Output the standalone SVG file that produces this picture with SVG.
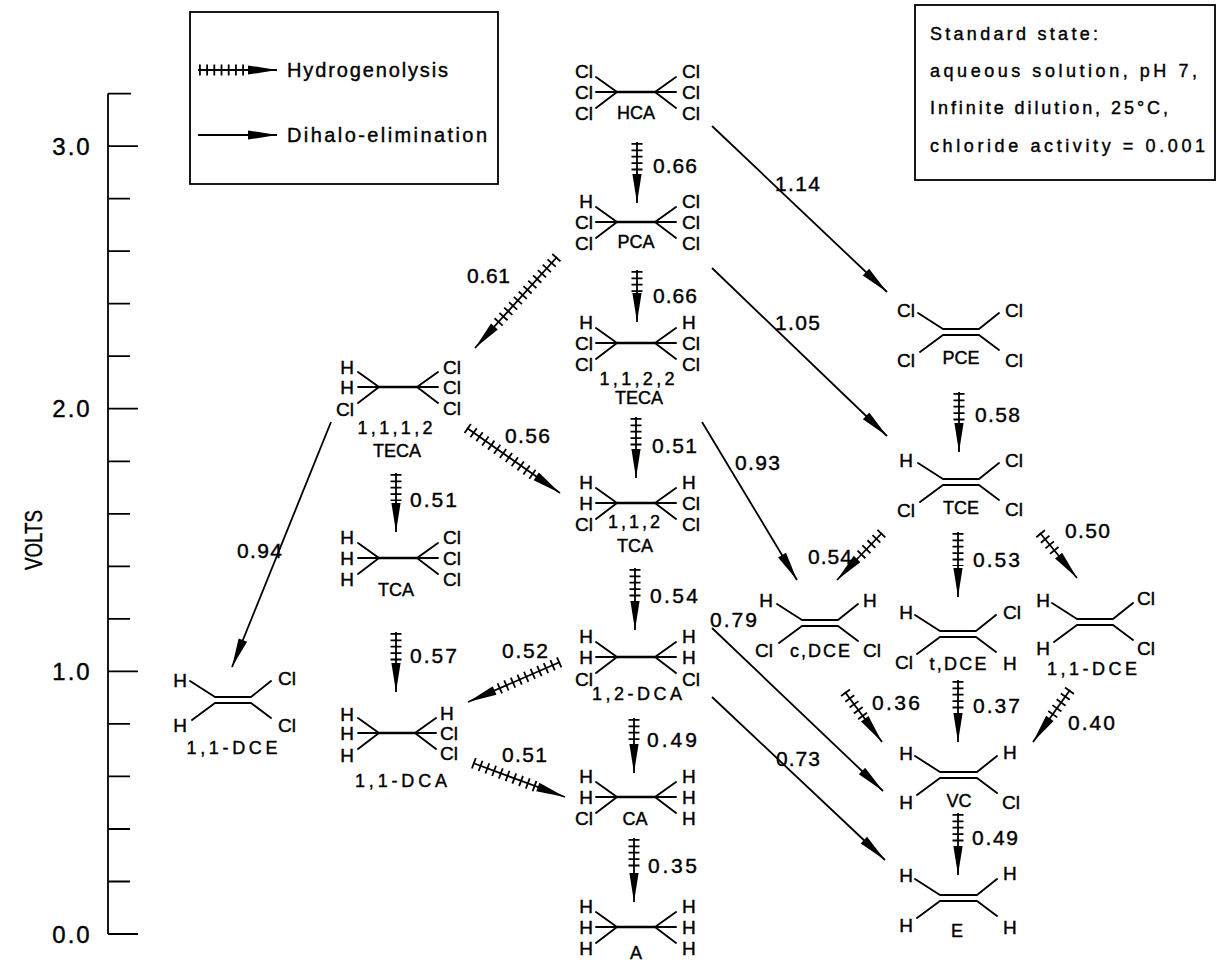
<svg xmlns="http://www.w3.org/2000/svg" width="1220" height="961" viewBox="0 0 1220 961">
<defs>
<style>
text { font-family: "Liberation Sans", Arial, sans-serif; fill: #000; stroke: #000; stroke-width: 0.4; }
.at { font-size: 19px; }
.e { text-anchor: end; }
.nm { font-size: 18px; text-anchor: middle; }
.n { font-size: 21px; }
.ax { font-size: 24px; text-anchor: middle; letter-spacing: 2px; }
.lg { font-size: 20px; }
.st { font-size: 18px; }
.bd { stroke: #000; stroke-width: 1.9; fill: none; stroke-linecap: round; stroke-linejoin: round; }
.cc { stroke: #000; stroke-width: 2.5; fill: none; }
.ar { stroke: #000; stroke-width: 1.8; fill: none; marker-end: url(#ah); }
.ht { stroke: #000; stroke-width: 11; stroke-dasharray: 1.8 4.6; fill: none; }
.hd { stroke: #000; stroke-width: 11; stroke-dasharray: 1.8 5.4; fill: none; }
.bx { fill: none; stroke: #000; stroke-width: 1.8; }
</style>
<marker id="ah" markerUnits="userSpaceOnUse" viewBox="-30 -6 31 12" refX="0" refY="0" markerWidth="31" markerHeight="12" orient="auto">
<path d="M0,0L-29,-4.6L-29,4.6Z" fill="#000"/>
</marker>
</defs>
<rect width="1220" height="961" fill="#fff"/>

<g id="axis">
<path class="bx" d="M108,93.5V934M108,934H138M108,671.4H138M108,408.7H138M108,146.1H138M108,881.5H130M108,829H130M108,776.4H130M108,723.9H130M108,618.8H130M108,566.3H130M108,513.8H130M108,461.3H130M108,356.2H130M108,303.7H130M108,251.2H130M108,198.6H130M108,93.6H131"/>
<text class="ax" x="72" y="943">0.0</text>
<text class="ax" x="72" y="680">1.0</text>
<text class="ax" x="72" y="417">2.0</text>
<text class="ax" x="72" y="155">3.0</text>
<text transform="translate(42,540) rotate(-90)" text-anchor="middle" font-size="24" textLength="60" lengthAdjust="spacingAndGlyphs">VOLTS</text>
</g>

<g id="legend">
<rect class="bx" x="190" y="12" width="308" height="172"/>
<line class="hd" x1="199" y1="70" x2="249" y2="70"/>
<line class="ar" x1="198" y1="70" x2="277" y2="70"/>
<text class="lg" x="287" y="77" textLength="161">Hydrogenolysis</text>
<line class="ar" x1="198" y1="135" x2="277" y2="135"/>
<text class="lg" x="287" y="142" textLength="200">Dihalo-elimination</text>
</g>

<g id="conditions">
<rect class="bx" x="915" y="5" width="300" height="175"/>
<text class="st" x="930" y="40" textLength="168">Standard state:</text>
<text class="st" x="930" y="77" textLength="267">aqueous solution, pH 7,</text>
<text class="st" x="930" y="114" textLength="238">Infinite dilution, 25°C,</text>
<text class="st" x="930" y="152" textLength="275">chloride activity = 0.001</text>
</g>

<!-- ethanes -->
<g id="HCA" transform="translate(617,92)">
<path class="bd" d="M-21,-15L0,0L-21,16M-21,0H0M38,0L59,-15M38,0H59M38,0L59,16"/>
<path class="cc" d="M0,0H38"/>
<text class="at e" x="-24" y="-14.5">Cl</text><text class="at e" x="-24" y="6.5">Cl</text><text class="at e" x="-24" y="27.5">Cl</text>
<text class="at" x="65" y="-14.5">Cl</text><text class="at" x="65" y="6.5">Cl</text><text class="at" x="65" y="27.5">Cl</text>
<text class="nm" x="19" y="27">HCA</text>
</g>
<g id="PCA" transform="translate(617,222)">
<path class="bd" d="M-21,-15L0,0L-21,16M-21,0H0M38,0L59,-15M38,0H59M38,0L59,16"/>
<path class="cc" d="M0,0H38"/>
<text class="at e" x="-24" y="-14.5">H</text><text class="at e" x="-24" y="6.5">Cl</text><text class="at e" x="-24" y="27.5">Cl</text>
<text class="at" x="65" y="-14.5">Cl</text><text class="at" x="65" y="6.5">Cl</text><text class="at" x="65" y="27.5">Cl</text>
<text class="nm" x="19" y="26">PCA</text>
</g>
<g id="TECA1122" transform="translate(617,343)">
<path class="bd" d="M-21,-15L0,0L-21,16M-21,0H0M38,0L59,-15M38,0H59M38,0L59,16"/>
<path class="cc" d="M0,0H38"/>
<text class="at e" x="-24" y="-14.5">H</text><text class="at e" x="-24" y="6.5">Cl</text><text class="at e" x="-24" y="27.5">Cl</text>
<text class="at" x="65" y="-14.5">H</text><text class="at" x="65" y="6.5">Cl</text><text class="at" x="65" y="27.5">Cl</text>
<text class="nm" x="20" y="42" textLength="75">1,1,2,2</text>
<text class="nm" x="22" y="61">TECA</text>
</g>
<g id="TCA112" transform="translate(617,503)">
<path class="bd" d="M-21,-15L0,0L-21,16M-21,0H0M38,0L59,-15M38,0H59M38,0L59,16"/>
<path class="cc" d="M0,0H38"/>
<text class="at e" x="-24" y="-14.5">H</text><text class="at e" x="-24" y="6.5">H</text><text class="at e" x="-24" y="27.5">Cl</text>
<text class="at" x="65" y="-14.5">H</text><text class="at" x="65" y="6.5">Cl</text><text class="at" x="65" y="27.5">Cl</text>
<text class="nm" x="17" y="25" textLength="52">1,1,2</text>
<text class="nm" x="18" y="49">TCA</text>
</g>
<g id="DCA12" transform="translate(617,657)">
<path class="bd" d="M-21,-15L0,0L-21,16M-21,0H0M38,0L59,-15M38,0H59M38,0L59,16"/>
<path class="cc" d="M0,0H38"/>
<text class="at e" x="-24" y="-14.5">H</text><text class="at e" x="-24" y="6.5">H</text><text class="at e" x="-24" y="29">Cl</text>
<text class="at" x="65" y="-14.5">H</text><text class="at" x="65" y="6.5">H</text><text class="at" x="65" y="29">Cl</text>
<text class="nm" x="20" y="43" textLength="90">1,2-DCA</text>
</g>
<g id="CA" transform="translate(617,797)">
<path class="bd" d="M-21,-15L0,0L-21,16M-21,0H0M38,0L59,-15M38,0H59M38,0L59,16"/>
<path class="cc" d="M0,0H38"/>
<text class="at e" x="-24" y="-14.5">H</text><text class="at e" x="-24" y="6.5">H</text><text class="at e" x="-24" y="27.5">Cl</text>
<text class="at" x="65" y="-14.5">H</text><text class="at" x="65" y="6.5">H</text><text class="at" x="65" y="27.5">H</text>
<text class="nm" x="18" y="28">CA</text>
</g>
<g id="A" transform="translate(617,927)">
<path class="bd" d="M-21,-15L0,0L-21,16M-21,0H0M38,0L59,-15M38,0H59M38,0L59,16"/>
<path class="cc" d="M0,0H38"/>
<text class="at e" x="-24" y="-14.5">H</text><text class="at e" x="-24" y="6.5">H</text><text class="at e" x="-24" y="27.5">H</text>
<text class="at" x="65" y="-14.5">H</text><text class="at" x="65" y="6.5">H</text><text class="at" x="65" y="27.5">H</text>
<text class="nm" x="19" y="32">A</text>
</g>
<g id="TECA1112" transform="translate(379,387)">
<path class="bd" d="M-21,-15L0,0L-21,16M-21,0H0M38,0L59,-15M38,0H59M38,0L59,16"/>
<path class="cc" d="M0,0H38"/>
<text class="at e" x="-25" y="-13.5">H</text><text class="at e" x="-25" y="6.5">H</text><text class="at e" x="-25" y="29">Cl</text>
<text class="at" x="64" y="-13.5">Cl</text><text class="at" x="64" y="6.5">Cl</text><text class="at" x="64" y="28">Cl</text>
<text class="nm" x="16" y="47" textLength="75">1,1,1,2</text>
<text class="nm" x="18" y="70">TECA</text>
</g>
<g id="TCA111" transform="translate(379,558)">
<path class="bd" d="M-21,-15L0,0L-21,16M-21,0H0M38,0L59,-15M38,0H59M38,0L59,16"/>
<path class="cc" d="M0,0H38"/>
<text class="at e" x="-25" y="-14.5">H</text><text class="at e" x="-25" y="6.5">H</text><text class="at e" x="-25" y="27.5">H</text>
<text class="at" x="64" y="-14.5">Cl</text><text class="at" x="64" y="6.5">Cl</text><text class="at" x="64" y="27.5">Cl</text>
<text class="nm" x="17" y="38">TCA</text>
</g>
<g id="DCA11" transform="translate(379,733)">
<path class="bd" d="M-21,-15L0,0L-21,16M-21,0H0M36,0L57,-15M36,0H57M36,0L57,16"/>
<path class="cc" d="M0,0H36"/>
<text class="at e" x="-25" y="-12.5">H</text><text class="at e" x="-25" y="6.5">H</text><text class="at e" x="-25" y="28.5">H</text>
<text class="at" x="61" y="-13.5">H</text><text class="at" x="61" y="6.5">Cl</text><text class="at" x="61" y="26.5">Cl</text>
<text class="nm" x="22" y="54" textLength="92">1,1-DCA</text>
</g>

<!-- ethenes -->
<g id="DCE11L" transform="translate(215,700)">
<path class="bd" d="M0,-3H36M0,3H36M-25,-19L0,-3M-23,20L0,3M36,-3L56,-19M36,3L56,18"/>
<text class="at e" x="-28" y="-13.5">H</text><text class="at e" x="-28" y="31.5">H</text>
<text class="at" x="63" y="-15.5">Cl</text><text class="at" x="63" y="31.5">Cl</text>
<text class="nm" x="17" y="54" textLength="91">1,1-DCE</text>
</g>
<g id="PCE" transform="translate(943,332)">
<path class="bd" d="M0,-3H36M0,3H36M-25,-19L0,-3M-23,20L0,3M36,-3L56,-19M36,3L56,18"/>
<text class="at e" x="-28" y="-15.5">Cl</text><text class="at e" x="-28" y="34.5">Cl</text>
<text class="at" x="62" y="-15.5">Cl</text><text class="at" x="62" y="34.5">Cl</text>
<text class="nm" x="18" y="32">PCE</text>
</g>
<g id="TCE" transform="translate(943,482)">
<path class="bd" d="M0,-3H36M0,3H36M-25,-19L0,-3M-23,20L0,3M36,-3L56,-19M36,3L56,18"/>
<text class="at e" x="-30" y="-15.5">H</text><text class="at e" x="-28" y="34.5">Cl</text>
<text class="at" x="62" y="-15.5">Cl</text><text class="at" x="62" y="33.5">Cl</text>
<text class="nm" x="18" y="32">TCE</text>
</g>
<g id="cDCE" transform="translate(802,623)">
<path class="bd" d="M0,-3H36M0,3H36M-25,-19L0,-3M-23,20L0,3M36,-3L56,-19M36,3L56,18"/>
<text class="at e" x="-29" y="-16.5">H</text><text class="at e" x="-29" y="33.5">Cl</text>
<text class="at" x="61" y="-16.5">H</text><text class="at" x="61" y="33.5">Cl</text>
<text class="nm" x="18" y="34" textLength="60">c,DCE</text>
</g>
<g id="tDCE" transform="translate(940,634)">
<path class="bd" d="M0,-3H36M0,3H36M-25,-19L0,-3M-23,20L0,3M36,-3L56,-19M36,3L56,18"/>
<text class="at e" x="-27" y="-15.5">H</text><text class="at e" x="-27" y="34.5">Cl</text>
<text class="at" x="63" y="-15.5">Cl</text><text class="at" x="63" y="35.5">H</text>
<text class="nm" x="18" y="36" textLength="57">t,DCE</text>
</g>
<g id="DCE11R" transform="translate(1077,622)">
<path class="bd" d="M0,-3H36M0,3H36M-25,-19L0,-3M-23,20L0,3M36,-3L56,-19M36,3L56,18"/>
<text class="at e" x="-27" y="-15.5">H</text><text class="at e" x="-27" y="32.5">H</text>
<text class="at" x="60" y="-17.5">Cl</text><text class="at" x="60" y="32.5">Cl</text>
<text class="nm" x="15" y="53" textLength="90">1,1-DCE</text>
</g>
<g id="VC" transform="translate(940,775)">
<path class="bd" d="M0,-3H37M0,3H37M-25,-19L0,-3M-23,20L0,3M37,-3L57,-19M37,3L57,18"/>
<text class="at e" x="-27" y="-15.5">H</text><text class="at e" x="-27" y="33.5">H</text>
<text class="at" x="63" y="-16.5">H</text><text class="at" x="62" y="33.5">Cl</text>
<text class="nm" x="19" y="32">VC</text>
</g>
<g id="E" transform="translate(940,898)">
<path class="bd" d="M0,-3H37M0,3H37M-25,-19L0,-3M-23,20L0,3M37,-3L57,-19M37,3L57,18"/>
<text class="at e" x="-27" y="-16.5">H</text><text class="at e" x="-27" y="33.5">H</text>
<text class="at" x="63" y="-18.5">H</text><text class="at" x="63" y="35.5">H</text>
<text class="nm" x="17" y="39">E</text>
</g>

<g id="connectors">
<!-- vertical hydrogenolysis -->
<line class="ht" x1="637" y1="143" x2="637" y2="172"/><line class="ar" x1="637" y1="142" x2="637" y2="203"/>
<line class="ht" x1="637" y1="271" x2="637" y2="292"/><line class="ar" x1="637" y1="270" x2="637" y2="322"/>
<line class="ht" x1="636" y1="418" x2="636" y2="447"/><line class="ar" x1="636" y1="417" x2="636" y2="478"/>
<line class="ht" x1="635" y1="569" x2="635" y2="599"/><line class="ar" x1="635" y1="568" x2="635" y2="630"/>
<line class="ht" x1="634" y1="719" x2="634" y2="743"/><line class="ar" x1="634" y1="718" x2="634" y2="773"/>
<line class="ht" x1="634" y1="839" x2="634" y2="871"/><line class="ar" x1="634" y1="838" x2="634" y2="902"/>
<line class="ht" x1="396" y1="474" x2="396" y2="501"/><line class="ar" x1="396" y1="473" x2="396" y2="532"/>
<line class="ht" x1="396" y1="633" x2="396" y2="661"/><line class="ar" x1="396" y1="632" x2="396" y2="692"/>
<line class="ht" x1="959" y1="393" x2="959" y2="421"/><line class="ar" x1="959" y1="392" x2="959" y2="452"/>
<line class="ht" x1="958" y1="533" x2="958" y2="566"/><line class="ar" x1="958" y1="532" x2="958" y2="597"/>
<line class="ht" x1="958" y1="681" x2="958" y2="711"/><line class="ar" x1="958" y1="680" x2="958" y2="742"/>
<line class="ht" x1="958" y1="814" x2="958" y2="844"/><line class="ar" x1="958" y1="813" x2="958" y2="875"/>
<!-- diagonal hydrogenolysis -->
<line class="hd" x1="557" y1="257" x2="495" y2="326"/><line class="ar" x1="557" y1="257" x2="475" y2="348"/>
<line class="hd" x1="467" y1="428" x2="535" y2="476"/><line class="ar" x1="467" y1="428" x2="560" y2="493"/>
<line class="hd" x1="560" y1="662" x2="496" y2="690"/><line class="ar" x1="560" y1="662" x2="468" y2="702"/>
<line class="hd" x1="473" y1="763" x2="537" y2="787"/><line class="ar" x1="473" y1="763" x2="565" y2="797"/>
<line class="hd" x1="882" y1="533" x2="858" y2="558"/><line class="ar" x1="882" y1="533" x2="837" y2="580"/>
<line class="hd" x1="1040" y1="533" x2="1058" y2="555"/><line class="ar" x1="1040" y1="533" x2="1077" y2="578"/>
<line class="hd" x1="845" y1="692" x2="864" y2="718"/><line class="ar" x1="845" y1="692" x2="882" y2="742"/>
<line class="hd" x1="1070" y1="690" x2="1050" y2="718"/><line class="ar" x1="1070" y1="690" x2="1033" y2="742"/>
<!-- dihalo-elimination -->
<line class="ar" x1="712" y1="126" x2="887" y2="292"/>
<line class="ar" x1="712" y1="268" x2="887" y2="436"/>
<line class="ar" x1="331" y1="422" x2="232" y2="667"/>
<line class="ar" x1="702" y1="422" x2="797" y2="580"/>
<line class="ar" x1="712" y1="628" x2="883" y2="791"/>
<line class="ar" x1="712" y1="697" x2="885" y2="860"/>
<!-- labels -->
<text class="n" x="653" y="173" textLength="44">0.66</text>
<text class="n" x="653" y="303" textLength="44">0.66</text>
<text class="n" x="652" y="453" textLength="45">0.51</text>
<text class="n" x="650" y="603" textLength="48">0.54</text>
<text class="n" x="647" y="747" textLength="50">0.49</text>
<text class="n" x="648" y="873" textLength="49">0.35</text>
<text class="n" x="410" y="507" textLength="47">0.51</text>
<text class="n" x="410" y="663" textLength="47">0.57</text>
<text class="n" x="975" y="422" textLength="45">0.58</text>
<text class="n" x="973" y="567" textLength="47">0.53</text>
<text class="n" x="973" y="713" textLength="47">0.37</text>
<text class="n" x="972" y="845" textLength="46">0.49</text>
<text class="n" x="467" y="283" textLength="43">0.61</text>
<text class="n" x="505" y="443" textLength="45">0.56</text>
<text class="n" x="502" y="658" textLength="46">0.52</text>
<text class="n" x="502" y="762" textLength="45">0.51</text>
<text class="n" x="808" y="564" textLength="44">0.54</text>
<text class="n" x="1065" y="538" textLength="45">0.50</text>
<text class="n" x="872" y="710" textLength="48">0.36</text>
<text class="n" x="1068" y="730" textLength="47">0.40</text>
<text class="n" x="775" y="191" textLength="45">1.14</text>
<text class="n" x="775" y="330" textLength="45">1.05</text>
<text class="n" x="237" y="558" textLength="45">0.94</text>
<text class="n" x="735" y="470" textLength="45">0.93</text>
<text class="n" x="710" y="627" textLength="47">0.79</text>
<text class="n" x="776" y="766" textLength="44">0.73</text>
</g>
</svg>
